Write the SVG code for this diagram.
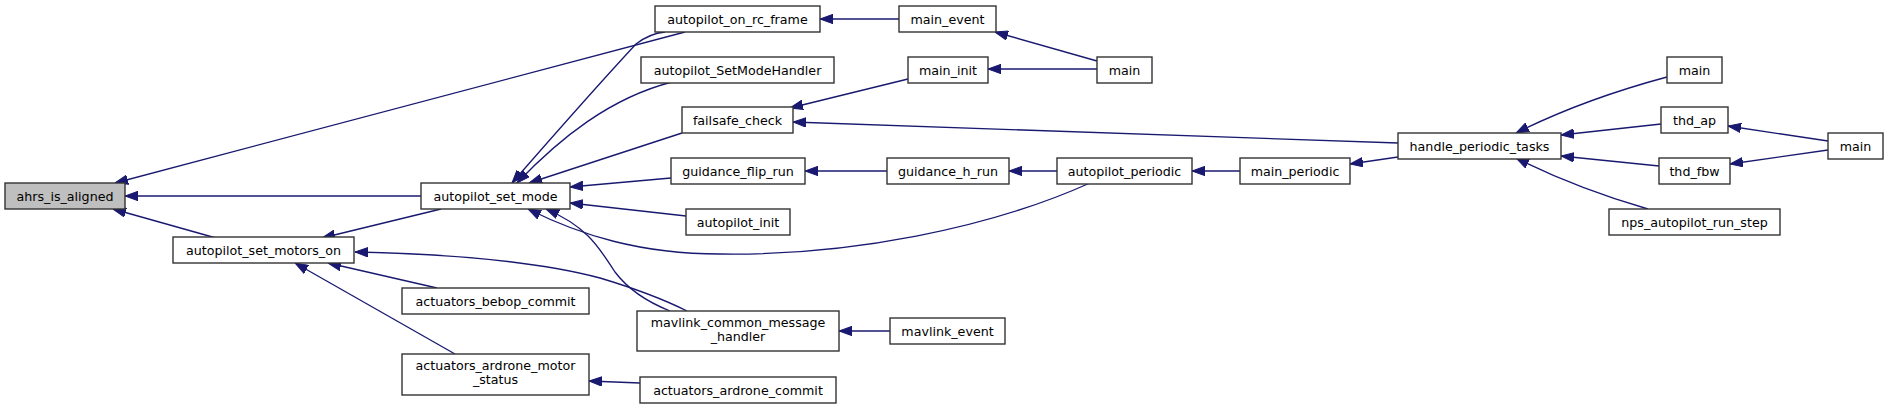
<svg xmlns="http://www.w3.org/2000/svg" width="1888" height="408" viewBox="0 0 1888 408">
<style>
.n rect{fill:#fff;stroke:#333;stroke-width:1.4}
.n.hl rect{fill:#bfbfbf}
.n text{font-family:"DejaVu Sans","Liberation Sans",sans-serif;font-size:12.67px;fill:#000;text-anchor:middle}
.e path{fill:none;stroke:#191970;stroke-width:1.33;marker-start:url(#ah)}
</style>
<defs>
<marker id="ah" viewBox="0 0 13 10" refX="13" refY="5" markerWidth="13" markerHeight="10" markerUnits="userSpaceOnUse" orient="auto-start-reverse">
<path d="M0,0.3 L13,5 L0,9.7 Z" fill="#191970" stroke="#191970" stroke-width="1"/>
</marker>
</defs>
<rect width="1888" height="408" fill="#fff"/>
<g id="edges" class="e">
<path d="M115,183 L685,32"/>
<path d="M125,196 L421,196"/>
<path d="M113,209 L216,238"/>
<path d="M512,183 C560,128 610,72 636,44 C645,37 655,33 665,32"/>
<path d="M517,183 C560,138 610,98 672,82"/>
<path d="M529,183 L682,133"/>
<path d="M570,187 L671,178"/>
<path d="M570,203 L686,216"/>
<path d="M528,209 C580,235 640,254 720,254 C850,256 990,228 1090,183"/>
<path d="M546,209 C590,228 600,250 615,272 C630,292 650,303 670,311"/>
<path d="M355,252 C450,254 540,262 600,278 C640,290 665,300 687,311"/>
<path d="M322,238 L441,209"/>
<path d="M328,263 L437,288"/>
<path d="M295,263 L455,354"/>
<path d="M589,381 L640,383"/>
<path d="M820,19 L899,19"/>
<path d="M995,32 L1097,61"/>
<path d="M988,69 L1097,69"/>
<path d="M790,108 L908,79"/>
<path d="M793,122 L1398,143"/>
<path d="M805,171 L887,171"/>
<path d="M1009,171 L1057,171"/>
<path d="M1192,171 L1240,171"/>
<path d="M1350,164 L1398,157"/>
<path d="M1516,133 C1550,116 1600,95 1667,77"/>
<path d="M1561,135 L1661,124"/>
<path d="M1561,156 L1659,166"/>
<path d="M1516,158 C1550,175 1600,195 1648,209"/>
<path d="M1728,126 L1828,141"/>
<path d="M1730,164 L1828,150"/>
<path d="M839,331 L890,331"/>
</g>
<g id="ahrs_is_aligned" class="n hl"><rect x="5" y="183" width="120" height="26"/><text x="65" y="200.5">ahrs_is_aligned</text></g>
<g id="autopilot_set_mode" class="n"><rect x="421" y="183" width="149" height="26"/><text x="495.5" y="200.5">autopilot_set_mode</text></g>
<g id="autopilot_set_motors_on" class="n"><rect x="173" y="237" width="181" height="26"/><text x="263.5" y="254.5">autopilot_set_motors_on</text></g>
<g id="actuators_bebop_commit" class="n"><rect x="402" y="288" width="187" height="26"/><text x="495.5" y="305.5">actuators_bebop_commit</text></g>
<g id="actuators_ardrone_motor_status" class="n"><rect x="402" y="354" width="187" height="41"/><text x="495.5" y="370">actuators_ardrone_motor</text><text x="495.5" y="384">_status</text></g>
<g id="autopilot_on_rc_frame" class="n"><rect x="655" y="6" width="165" height="26"/><text x="737.5" y="23.5">autopilot_on_rc_frame</text></g>
<g id="autopilot_SetModeHandler" class="n"><rect x="641" y="57" width="193" height="26"/><text x="737.5" y="74.5">autopilot_SetModeHandler</text></g>
<g id="failsafe_check" class="n"><rect x="682" y="107" width="111" height="26"/><text x="737.5" y="124.5">failsafe_check</text></g>
<g id="guidance_flip_run" class="n"><rect x="671" y="158" width="134" height="26"/><text x="738" y="175.5">guidance_flip_run</text></g>
<g id="autopilot_init" class="n"><rect x="686" y="209" width="104" height="26"/><text x="738" y="226.5">autopilot_init</text></g>
<g id="mavlink_common_message_handler" class="n"><rect x="637" y="311" width="202" height="40"/><text x="738" y="327">mavlink_common_message</text><text x="738" y="341">_handler</text></g>
<g id="actuators_ardrone_commit" class="n"><rect x="640" y="377" width="196" height="26"/><text x="738" y="394.5">actuators_ardrone_commit</text></g>
<g id="main_event" class="n"><rect x="899" y="6" width="97" height="26"/><text x="947.5" y="23.5">main_event</text></g>
<g id="main_init" class="n"><rect x="908" y="57" width="80" height="26"/><text x="948" y="74.5">main_init</text></g>
<g id="guidance_h_run" class="n"><rect x="887" y="158" width="122" height="26"/><text x="948" y="175.5">guidance_h_run</text></g>
<g id="mavlink_event" class="n"><rect x="890" y="318" width="115" height="26"/><text x="947.5" y="335.5">mavlink_event</text></g>
<g id="main_1" class="n"><rect x="1097" y="57" width="55" height="26"/><text x="1124.5" y="74.5">main</text></g>
<g id="autopilot_periodic" class="n"><rect x="1057" y="158" width="135" height="26"/><text x="1124.5" y="175.5">autopilot_periodic</text></g>
<g id="main_periodic" class="n"><rect x="1240" y="158" width="110" height="26"/><text x="1295" y="175.5">main_periodic</text></g>
<g id="handle_periodic_tasks" class="n"><rect x="1398" y="133" width="163" height="26"/><text x="1479.5" y="150.5">handle_periodic_tasks</text></g>
<g id="main_2" class="n"><rect x="1667" y="57" width="55" height="26"/><text x="1694.5" y="74.5">main</text></g>
<g id="thd_ap" class="n"><rect x="1661" y="107" width="67" height="26"/><text x="1694.5" y="124.5">thd_ap</text></g>
<g id="thd_fbw" class="n"><rect x="1659" y="158" width="71" height="26"/><text x="1694.5" y="175.5">thd_fbw</text></g>
<g id="nps_autopilot_run_step" class="n"><rect x="1609" y="209" width="171" height="26"/><text x="1694.5" y="226.5">nps_autopilot_run_step</text></g>
<g id="main_3" class="n"><rect x="1828" y="133" width="55" height="26"/><text x="1855.5" y="150.5">main</text></g>
</svg>
